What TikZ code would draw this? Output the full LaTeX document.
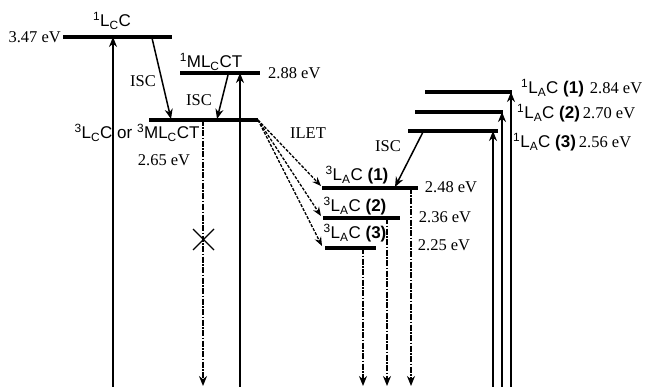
\documentclass[tikz,border=0pt]{standalone}
\usepackage{fontspec}
\setmainfont{Liberation Serif}
\setsansfont{Liberation Sans}
\usetikzlibrary{arrows.meta}
\newcommand\Sup[1]{\textsuperscript{#1}}
\newcommand\Sub[1]{\textsubscript{#1}}
\begin{document}
\begin{tikzpicture}[x=1pt,y=-1pt,
  level/.style={line width=3.2pt},
  absarrow/.style={line width=1.8pt,-{Stealth[length=10pt,width=8pt]}},
  emis/.style={line width=1.6pt,dash pattern=on 6pt off 1.5pt on 1.5pt off 1.5pt,-{Stealth[length=10pt,width=8pt]}},
  ilet/.style={line width=1.3pt,dash pattern=on 3pt off 1.5pt,-{Stealth[length=9pt,width=7pt]}},
  isc/.style={line width=1.5pt,-{Stealth[length=10pt,width=8pt]}},
  ser/.style={inner sep=0pt,font=\fontsize{16.5}{19}\selectfont\rmfamily},
  san/.style={inner sep=0pt,font=\fontsize{17}{20}\selectfont\sffamily},
  cross/.style={line width=1.3pt}]
\useasboundingbox (0,0) rectangle (652,387);
% levels
\coordinate (A-l) at (63,37);   \coordinate (A-r) at (172,37);
\coordinate (B-l) at (180,73);  \coordinate (B-r) at (260,73);
\coordinate (T-l) at (149,120); \coordinate (T-r) at (258,120);
\coordinate (L1-l) at (322,188); \coordinate (L1-r) at (418,188);
\coordinate (L2-l) at (323,218); \coordinate (L2-r) at (400,218);
\coordinate (L3-l) at (325,248); \coordinate (L3-r) at (376,248);
\coordinate (S1-l) at (425,92);  \coordinate (S1-r) at (512,92);
\coordinate (S2-l) at (415,112); \coordinate (S2-r) at (503,112);
\coordinate (S3-l) at (408,131); \coordinate (S3-r) at (498,131);
\foreach \n in {A,B,T,L1,L2,L3,S1,S2,S3}{\draw[level] (\n-l) -- (\n-r);}
% absorption arrows
\coordinate (bA) at (113,388); \coordinate (tA) at (113,37);
\coordinate (bB) at (240,388); \coordinate (tB) at (240,73);
\coordinate (bS1) at (511,388); \coordinate (tS1) at (511,92);
\coordinate (bS2) at (502,388); \coordinate (tS2) at (502,112);
\coordinate (bS3) at (493,388); \coordinate (tS3) at (493,131);
\foreach \n in {A,B,S1,S2,S3}{\draw[absarrow] (b\n) -- (t\n);}
% emission arrows
\coordinate (eT) at (203,120); \coordinate (fT) at (203,386);
\coordinate (eL1) at (411,188); \coordinate (fL1) at (411,386);
\coordinate (eL2) at (387,218); \coordinate (fL2) at (387,386);
\coordinate (eL3) at (363,248); \coordinate (fL3) at (363,386);
\foreach \n in {T,L1,L2,L3}{\draw[emis] (e\n) -- (f\n);}
% cross
\coordinate (x1) at (193,229); \coordinate (x2) at (214,250);
\coordinate (x3) at (193,250); \coordinate (x4) at (214,229);
\draw[cross] (x1) -- (x2); \draw[cross] (x3) -- (x4);
% ISC arrows
\coordinate (i1s) at (152,38); \coordinate (i1e) at (171,119);
\coordinate (i2s) at (228,75); \coordinate (i2e) at (217,119);
\coordinate (i3s) at (423,132); \coordinate (i3e) at (395,187);
\draw[isc] (i1s) -- (i1e);
\draw[isc] (i2s) -- (i2e);
\draw[isc] (i3s) -- (i3e);
% ILET arrows
\draw[ilet] (T-r) -- ([shift={(-1,-2)}]L1-l);
\draw[ilet] (T-r) -- ([shift={(-2,-2)}]L2-l);
\draw[ilet] (T-r) -- ([shift={(-3,-2)}]L3-l);
% labels
\node[ser,anchor=east] (eA) at (61,37) {3.47 eV};
\node[san] (nA) at (112,21) {\Sup{1}L\Sub{C}C};
\node[san] (nB) at (211,62) {\Sup{1}ML\Sub{C}CT};
\node[ser,anchor=west] (eB) at (268,73) {2.88 eV};
\node[san] (nT) at (137,133) {\Sup{3}L\Sub{C}C or \Sup{3}ML\Sub{C}CT};
\node[ser] (eT2) at (164,160) {2.65 eV};
\node[ser] (isc1) at (143,81) {ISC};
\node[ser] (isc2) at (199,100) {ISC};
\node[ser] (isc3) at (388,146) {ISC};
\node[ser] (ilet) at (308,133) {ILET};
\node[san] (nL1) at (357,175) {\Sup{3}L\Sub{A}C \textbf{(1)}};
\node[san] (nL2) at (355,206) {\Sup{3}L\Sub{A}C \textbf{(2)}};
\node[san] (nL3) at (355,233) {\Sup{3}L\Sub{A}C \textbf{(3)}};
\node[ser] (eL1t) at (451,187) {2.48 eV};
\node[ser] (eL2t) at (445,217) {2.36 eV};
\node[ser] (eL3t) at (444,245) {2.25 eV};
\node[san,anchor=west] (nS1) at (521,88) {\Sup{1}L\Sub{A}C \textbf{(1)}\hspace{6pt}{\rmfamily\fontsize{16.5}{19}\selectfont 2.84 eV}};
\node[san,anchor=west] (nS2) at (517,113) {\Sup{1}L\Sub{A}C \textbf{(2)}\hspace{3pt}{\rmfamily\fontsize{16.5}{19}\selectfont 2.70 eV}};
\node[san,anchor=west] (nS3) at (513,142) {\Sup{1}L\Sub{A}C \textbf{(3)}\hspace{3pt}{\rmfamily\fontsize{16.5}{19}\selectfont 2.56 eV}};
\end{tikzpicture}
\end{document}
